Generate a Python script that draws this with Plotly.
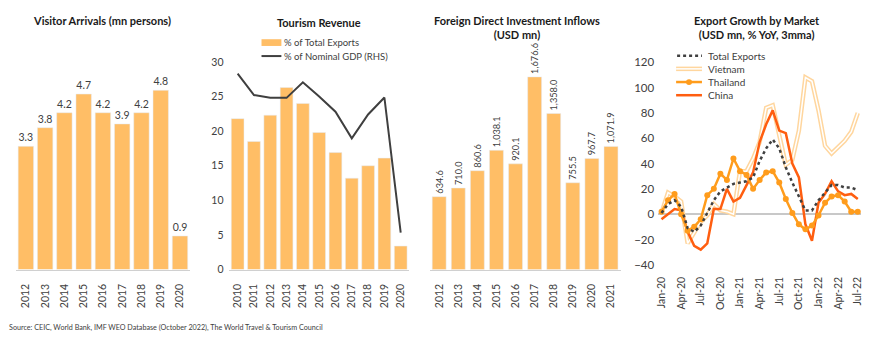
import plotly.graph_objects as go

# ---------------- data ----------------
va_years = ["2012", "2013", "2014", "2015", "2016", "2017", "2018", "2019", "2020"]
va_values = [3.3, 3.8, 4.2, 4.7, 4.2, 3.9, 4.2, 4.8, 0.9]

tr_years = ["2010", "2011", "2012", "2013", "2014", "2015", "2016", "2017", "2018", "2019", "2020"]
tr_exports = [21.8, 18.5, 22.3, 26.3, 24.0, 19.8, 16.9, 13.2, 15.0, 16.1, 3.4]
tr_gdp = [5.66, 5.04, 4.96, 4.96, 5.41, 5.0, 4.56, 3.79, 4.48, 4.97, 1.07]

fdi_years = ["2012", "2013", "2014", "2015", "2016", "2017", "2018", "2019", "2020", "2021"]
fdi_values = [634.6, 710.0, 860.6, 1038.1, 920.1, 1676.6, 1358.0, 755.5, 967.7, 1071.9]

months = ["Jan-20", "Feb-20", "Mar-20", "Apr-20", "May-20", "Jun-20", "Jul-20", "Aug-20", "Sep-20",
          "Oct-20", "Nov-20", "Dec-20", "Jan-21", "Feb-21", "Mar-21", "Apr-21", "May-21", "Jun-21",
          "Jul-21", "Aug-21", "Sep-21", "Oct-21", "Nov-21", "Dec-21", "Jan-22", "Feb-22", "Mar-22",
          "Apr-22", "May-22", "Jun-22", "Jul-22"]
month_ticks = ["Jan-20", "Apr-20", "Jul-20", "Oct-20", "Jan-21", "Apr-21", "Jul-21", "Oct-21",
               "Jan-22", "Apr-22", "Jul-22"]
total_exports = [1, 8, 11, 6, -11, -14, -9, 1, 11, 18, 21, 24, 25, 26, 29, 42, 52, 59, 52, 37, 25,
                 14, 3, 3, 11, 17, 23, 23, 21, 21, 19]
vietnam = [1, 17, 14, 10, -23, -15, -6, -1, 8, 3, 2, 0, 34, 34, 44, 57, 84, 86, 62, 39, 43, 66,
           108, 105, 82, 54, 48, 53, 58, 65, 80]
thailand = [2, 11, 16, 0, -13, -10, -4, 15, 20, 32, 27, 44, 34, 31, 20, 27, 33, 34, 25, 12, 1, -8,
            -12, -9, -1, 9, 14, 15, 10, 2, 2]
china = [-4, 0, 4, 3, -14, -25, -28, -23, 4, 4, 20, 10, 13, 23, 33, 57, 71, 82, 66, 64, 40, 29,
         -8, -21, 9, 16, 26, 18, 15, 16, 12]

# ---------------- styles ----------------
FONT = "Lato"
BAR = "#FFBE66"
TXT = "#404040"
C_TOTAL = "#404040"
C_VIET = "#FFD69E"
C_THAI = "#FF9C1C"
C_CHINA = "#FF5E10"
C_GDP = "#3F3F3F"
W, H = 870, 342


def px(x):
    return x / W


def py(y):
    return 1 - y / H


fig = go.Figure()

# Panel 1: Visitor arrivals
fig.add_trace(go.Bar(x=va_years, y=va_values, marker_color=BAR, width=0.8,
                     text=va_values, texttemplate="%{y:.1f}", textposition="outside",
                     textfont=dict(size=10.5, color=TXT), cliponaxis=False, constraintext="none",
                     xaxis="x", yaxis="y", showlegend=False))

# Panel 2: Tourism revenue
fig.add_trace(go.Bar(x=tr_years, y=tr_exports, marker_color=BAR, width=0.78,
                     name="% of Total Exports", xaxis="x2", yaxis="y2", showlegend=False))
fig.add_trace(go.Scatter(x=tr_years, y=tr_gdp, mode="lines", line=dict(color=C_GDP, width=2),
                         name="% of Nominal GDP (RHS)", xaxis="x2", yaxis="y3", showlegend=False))

# Panel 3: FDI
fig.add_trace(go.Bar(x=fdi_years, y=fdi_values, marker_color=BAR, width=0.73,
                     text=fdi_values, texttemplate="%{y:,.1f}", textposition="outside",
                     textangle=-90, textfont=dict(size=9.2, color=TXT), cliponaxis=False,
                     constraintext="none", xaxis="x4", yaxis="y4", showlegend=False))

# Panel 4: Export growth
fig.add_trace(go.Scatter(x=months, y=vietnam, mode="lines", name="Vietnam",
                         line=dict(color=C_VIET, width=4.5), xaxis="x5", yaxis="y5",
                         showlegend=False))
fig.add_trace(go.Scatter(x=months, y=vietnam, mode="lines", showlegend=False,
                         line=dict(color="white", width=1.5), xaxis="x5", yaxis="y5",
                         hoverinfo="skip"))
fig.add_trace(go.Scatter(x=months, y=china, mode="lines", name="China",
                         line=dict(color=C_CHINA, width=2.5), xaxis="x5", yaxis="y5",
                         showlegend=False))
fig.add_trace(go.Scatter(x=months, y=thailand, mode="lines+markers", name="Thailand",
                         line=dict(color=C_THAI, width=2.5), marker=dict(size=6, color=C_THAI),
                         xaxis="x5", yaxis="y5", showlegend=False))
fig.add_trace(go.Scatter(x=months, y=total_exports, mode="lines", name="Total Exports",
                         line=dict(color=C_TOTAL, width=2.5, dash="dot"), xaxis="x5", yaxis="y5",
                         showlegend=False))

cat_x = dict(type="category", showgrid=False, zeroline=False, showline=True, linecolor="#D0D0D0",
             linewidth=1, ticks="", tickangle=-90, tickfont=dict(size=10.5, color=TXT),
             ticklabelstandoff=9)

fig.update_layout(
    width=W, height=H, margin=dict(l=0, r=0, t=0, b=0),
    paper_bgcolor="white", plot_bgcolor="white",
    font=dict(family=FONT, color=TXT),
    showlegend=False,
    xaxis=dict(cat_x, domain=[px(13.3), px(187.7)], anchor="y", range=[-0.5, 8.5]),
    yaxis=dict(domain=[py(273), py(40)], range=[0, 6], visible=False, anchor="x"),
    xaxis2=dict(cat_x, domain=[px(227.8), px(408.2)], anchor="y2", range=[-0.5, 10.5]),
    yaxis2=dict(domain=[py(273), py(57)], range=[0, 30], anchor="x2", showgrid=False,
                zeroline=False, showline=False, dtick=5, tickfont=dict(size=10.5, color=TXT),
                ticklabelstandoff=5),
    yaxis3=dict(domain=[py(273), py(57)], range=[0, 6], overlaying="y2", side="right",
                anchor="x2", showgrid=False, zeroline=False, showticklabels=False),
    xaxis4=dict(cat_x, domain=[px(429.1), px(621.1)], anchor="y4", range=[-0.5, 9.5]),
    yaxis4=dict(domain=[py(273), py(34)], range=[0, 2000], visible=False, anchor="x4"),
    xaxis5=dict(type="category", domain=[px(659), px(863)], anchor="y5", range=[-0.5, 30.5],
                showgrid=False, zeroline=False, showline=False, ticks="", tickangle=-90,
                tickmode="array", tickvals=month_ticks, ticktext=month_ticks,
                tickfont=dict(size=10.5, color=TXT), ticklabelstandoff=9),
    yaxis5=dict(domain=[py(268), py(57.5)], range=[-40, 120], dtick=20, anchor="x5",
                showgrid=False, zeroline=True, zerolinecolor="#C8C8C8", zerolinewidth=1.5,
                tickfont=dict(size=11.5, color=TXT), ticklabelstandoff=3),
)

# ---- custom legends (tight spacing as in the reference) ----
def legend_text(text, x, y, size):
    fig.add_annotation(text=text, x=px(x), y=py(y), xref="paper", yref="paper",
                       xanchor="left", yanchor="middle", showarrow=False,
                       font=dict(size=size, color=TXT, family=FONT))


def legend_line(x0, x1, y, color, width, dash="solid"):
    fig.add_shape(type="line", xref="paper", yref="paper", x0=px(x0), x1=px(x1), y0=py(y), y1=py(y),
                  line=dict(color=color, width=width, dash=dash))


# Panel 2 legend
fig.add_shape(type="rect", xref="paper", yref="paper", x0=px(260), x1=px(280), y0=py(40.5),
              y1=py(33.5), fillcolor=BAR, line=dict(width=0))
legend_text("% of Total Exports", 281, 37, 9.5)
legend_line(260, 280, 51, C_GDP, 2)
legend_text("% of Nominal GDP (RHS)", 281, 51, 9.5)

# Panel 4 legend
legend_line(678, 703, 50.7, C_TOTAL, 2.5, "dot")
legend_text("Total Exports", 707, 50.7, 10)
legend_line(677, 703, 64.3, C_VIET, 4.5)
legend_line(677, 703, 64.3, "white", 1.5)
legend_text("Vietnam", 707, 64.3, 10)
legend_line(677, 703, 78, C_THAI, 2.5)
fig.add_shape(type="circle", xref="paper", yref="paper", x0=px(687), x1=px(693), y0=py(81),
              y1=py(75), fillcolor=C_THAI, line=dict(width=0))
legend_text("Thailand", 707, 78, 10)
legend_line(677, 703, 91.7, C_CHINA, 2.5)
legend_text("China", 707, 91.7, 10)

titles = [
    ("<b>Visitor Arrivals (mn persons)</b>", 100, 14),
    ("<b>Tourism Revenue</b>", 318, 16),
    ("<b>Foreign Direct Investment Inflows<br>(USD mn)</b>", 517, 21),
    ("<b>Export Growth by Market<br>(USD mn, % YoY, 3mma)</b>", 758, 21),
]
for text, x, y in titles:
    fig.add_annotation(text=text, x=px(x), y=py(y), xref="paper", yref="paper",
                       xanchor="center", yanchor="middle", showarrow=False,
                       font=dict(size=11, color="#1A1A1A", family=FONT))

fig.add_annotation(text="Source: CEIC, World Bank, IMF WEO Database (October 2022), The World Travel & Tourism Council",
                   x=px(4), y=py(333), xref="paper", yref="paper", xanchor="left", yanchor="middle",
                   showarrow=False, font=dict(size=7.2, color=TXT, family=FONT))

fig.write_html("out.html")
